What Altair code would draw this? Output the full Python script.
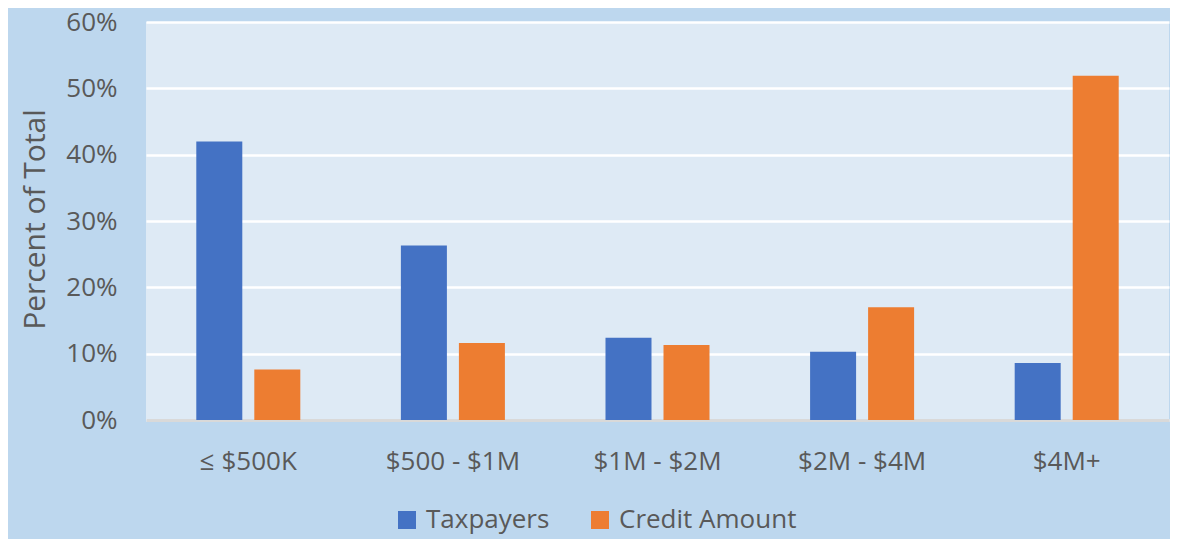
import altair as alt
import pandas as pd

categories = ["≤ $500K", "$500 - $1M", "$1M - $2M", "$2M - $4M", "$4M+"]
taxpayers = [42.0, 26.3, 12.4, 10.3, 8.6]
credit_amount = [7.6, 11.6, 11.3, 17.0, 51.9]
series = ["Taxpayers", "Credit Amount"]
colors = ["#4472C4", "#ED7D31"]

rows = []
for c, t, a in zip(categories, taxpayers, credit_amount):
    rows.append({"cat": c, "series": "Taxpayers", "value": t / 100})
    rows.append({"cat": c, "series": "Credit Amount", "value": a / 100})
df = pd.DataFrame(rows)

FONT = "Open Sans"
TXT = "#595959"

chart = alt.Chart(df).mark_bar().encode(
    x=alt.X("cat:N", sort=categories,
            scale=alt.Scale(paddingInner=0, paddingOuter=0),
            axis=alt.Axis(title=None, labelAngle=0, ticks=False, tickSize=0,
                          labelPadding=28, domainColor="#D9D9D9", domainWidth=3,
                          labelFont=FONT, labelFontSize=26, labelColor=TXT,
                          labelLimit=0, grid=False)),
    xOffset=alt.XOffset("series:N", sort=series,
                        scale=alt.Scale(paddingInner=0.207, paddingOuter=0.867)),
    y=alt.Y("value:Q", scale=alt.Scale(domain=[0, 0.6], nice=False),
            axis=alt.Axis(title="Percent of Total", format=".0%", values=[0, 0.1, 0.2, 0.3, 0.4, 0.5, 0.6],
                          ticks=False, tickSize=0, domain=False, labelPadding=29,
                          gridColor="#FFFFFF", gridWidth=2.5,
                          labelFont=FONT, labelFontSize=26, labelColor=TXT,
                          titleFont=FONT, titleFontSize=30, titleColor=TXT,
                          titleFontWeight="normal", titleX=-111, titleY=197,
                          titleAlign="center", titleBaseline="middle", titleAngle=-90)),
    color=alt.Color("series:N", sort=series,
                    scale=alt.Scale(domain=series, range=colors),
                    legend=alt.Legend(title=None, orient="none", legendX=248, legendY=485,
                                      direction="horizontal", symbolType="square",
                                      symbolSize=324, symbolStrokeWidth=0, labelOffset=6,
                                      columnPadding=37, labelFont=FONT, labelFontSize=26,
                                      labelColor=TXT, labelLimit=0, symbolOpacity=1)),
).properties(
    width=1023, height=398,
    autosize=alt.AutoSizeParams(type="none"),
    padding={"left": 138, "top": 14, "right": 1, "bottom": 119},
    background="#BDD7EE",
).configure_view(
    fill="#DEEAF5", stroke=None
)

chart.save("out.html", embed_options={"renderer": "svg", "actions": False})
